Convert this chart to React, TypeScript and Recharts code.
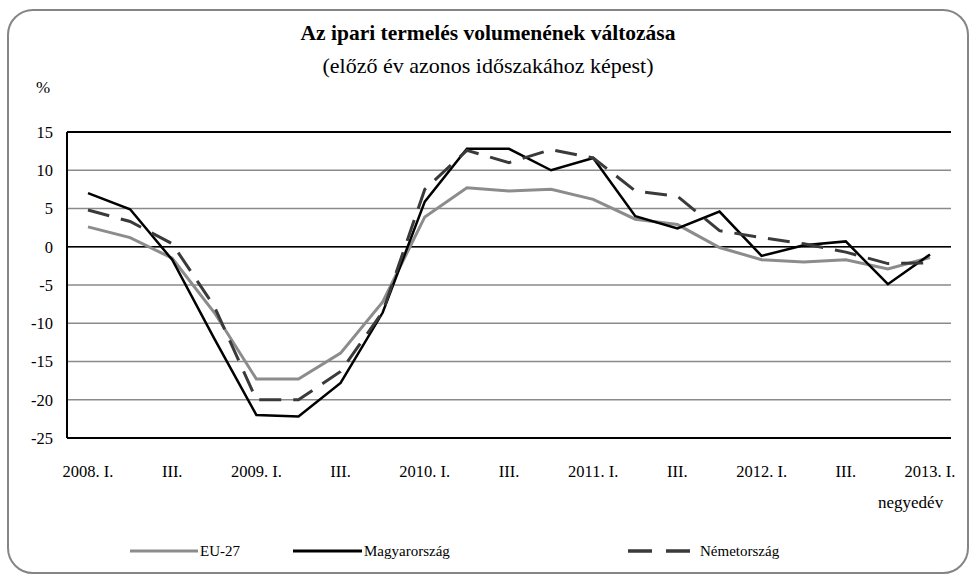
import React from "react";
import {
  LineChart,
  Line,
  XAxis,
  YAxis,
  CartesianGrid,
  ReferenceLine,
} from "recharts";

const quarters = [
  "2008. I.", "II.", "III.", "IV.",
  "2009. I.", "II.", "III.", "IV.",
  "2010. I.", "II.", "III.", "IV.",
  "2011. I.", "II.", "III.", "IV.",
  "2012. I.", "II.", "III.", "IV.",
  "2013. I.",
];

const eu27 = [2.6, 1.2, -1.5, -8.6, -17.3, -17.3, -13.9, -7.2, 3.9, 7.7, 7.3, 7.5, 6.2, 3.6, 2.9, -0.1, -1.7, -2.0, -1.7, -2.9, -1.4];
const magyarorszag = [7.0, 4.9, -1.7, -12.0, -22.0, -22.2, -17.8, -8.6, 5.9, 12.8, 12.8, 10.0, 11.6, 4.0, 2.4, 4.6, -1.2, 0.2, 0.7, -4.9, -1.0];
const nemetorszag = [4.8, 3.3, 0.4, -7.8, -20.0, -20.0, -16.3, -8.5, 7.5, 12.6, 11.0, 12.7, 11.6, 7.3, 6.6, 2.1, 1.2, 0.4, -0.7, -2.2, -2.1];

const yTicks = [15, 10, 5, 0, -5, -10, -15, -20, -25];

const seriesNames = ["EU-27", "Magyarország", "Németország"];

const data = quarters.map((q, i) => ({
  q,
  eu: eu27[i],
  hu: magyarorszag[i],
  de: nemetorszag[i],
}));

const FONT = "'Liberation Serif', 'DejaVu Serif', serif";

export default function App() {
  return (
    <div
      style={{
        position: "absolute",
        left: 0,
        top: 0,
        width: 976,
        height: 581,
        background: "#fff",
        fontFamily: FONT,
        color: "#000",
      }}
    >
      <div
        style={{
          position: "absolute",
          left: 7,
          top: 9,
          width: 962,
          height: 565,
          border: "2px solid #858585",
          borderRadius: 26,
          boxSizing: "border-box",
        }}
      />
      <div
        style={{
          position: "absolute",
          left: 0,
          width: 976,
          top: 21,
          textAlign: "center",
          fontWeight: "bold",
          fontSize: 21.5,
        }}
      >
        Az ipari termelés volumenének változása
      </div>
      <div
        style={{
          position: "absolute",
          left: 0,
          width: 976,
          top: 53,
          textAlign: "center",
          fontSize: 22,
        }}
      >
        (előző év azonos időszakához képest)
      </div>
      <div style={{ position: "absolute", left: 36, top: 78, fontSize: 17 }}>%</div>
      <div style={{ position: "absolute", left: 878, top: 493, fontSize: 17 }}>negyedév</div>

      <div style={{ position: "absolute", left: 0, top: 0 }}>
        <LineChart
          width={976}
          height={581}
          data={data}
          margin={{ top: 132, right: 25, bottom: 113, left: 27 }}
        >
          <CartesianGrid vertical={false} stroke="#8a8a8a" strokeWidth={1.5} />
          <XAxis
            dataKey="q"
            interval={1}
            tickLine={false}
            tickSize={0}
            tickMargin={27}
            padding={{ left: 21, right: 21 }}
            axisLine={{ stroke: "#000", strokeWidth: 2 }}
            tick={{ fill: "#000", fontSize: 16.5, fontFamily: FONT }}
            height={30}
          />
          <YAxis
            domain={[-25, 15]}
            ticks={yTicks}
            interval={0}
            width={40}
            tickLine={false}
            tickSize={0}
            tickMargin={14}
            axisLine={{ stroke: "#000", strokeWidth: 2 }}
            tick={{ fill: "#000", fontSize: 16.5, fontFamily: FONT }}
          />
          <YAxis
            yAxisId="r"
            orientation="right"
            domain={[-25, 15]}
            width={0}
            tick={false}
            tickLine={false}
            axisLine={{ stroke: "#000", strokeWidth: 2 }}
          />
          <ReferenceLine y={15} stroke="#000" strokeWidth={2} />
          <ReferenceLine y={0} stroke="#000" strokeWidth={1.5} />
          <Line
            type="linear"
            dataKey="eu"
            name={seriesNames[0]}
            stroke="#8c8c8c"
            strokeWidth={3}
            dot={false}
            isAnimationActive={false}
          />
          <Line
            type="linear"
            dataKey="hu"
            name={seriesNames[1]}
            stroke="#000"
            strokeWidth={2.5}
            dot={false}
            isAnimationActive={false}
          />
          <Line
            type="linear"
            dataKey="de"
            name={seriesNames[2]}
            stroke="#3a3a3a"
            strokeWidth={3}
            strokeDasharray="22 12"
            dot={false}
            isAnimationActive={false}
          />
        </LineChart>
      </div>

      <svg
        width={976}
        height={30}
        style={{ position: "absolute", left: 0, top: 536 }}
      >
        <line x1={130} x2={198} y1={15} y2={15} stroke="#8c8c8c" strokeWidth={3} />
        <text x={200} y={20} fontSize={15} fontFamily={FONT} fill="#000">
          {seriesNames[0]}
        </text>
        <line x1={293} x2={362} y1={15} y2={15} stroke="#000" strokeWidth={3} />
        <text x={364} y={20} fontSize={15} fontFamily={FONT} fill="#000">
          {seriesNames[1]}
        </text>
        <line
          x1={628}
          x2={690}
          y1={15}
          y2={15}
          stroke="#3a3a3a"
          strokeWidth={3.5}
          strokeDasharray="24 14"
        />
        <text x={700} y={20} fontSize={15} fontFamily={FONT} fill="#000">
          {seriesNames[2]}
        </text>
      </svg>
    </div>
  );
}
